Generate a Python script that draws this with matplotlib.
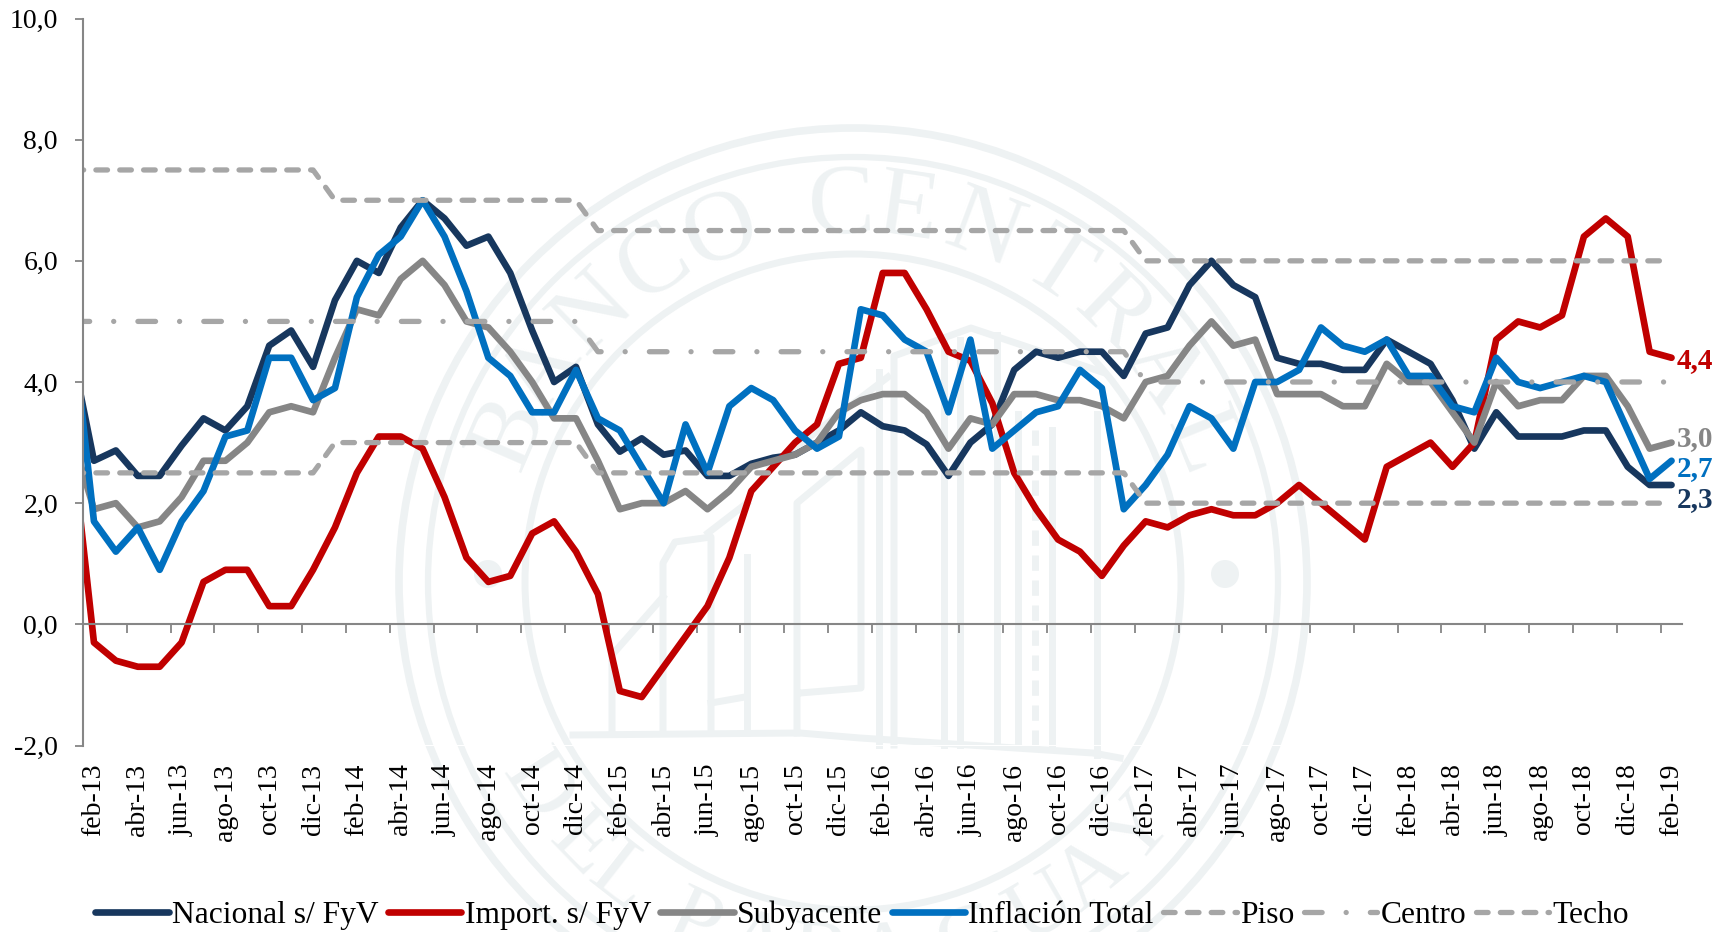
import numpy as np
import matplotlib
matplotlib.use("Agg")
import matplotlib.pyplot as plt
from matplotlib.patches import Circle

plt.rcParams['font.family'] = ['Liberation Serif', 'DejaVu Serif']

# months shown on the axis, one label every two months
tick_labels = ["feb-13","abr-13","jun-13","ago-13","oct-13","dic-13",
               "feb-14","abr-14","jun-14","ago-14","oct-14","dic-14",
               "feb-15","abr-15","jun-15","ago-15","oct-15","dic-15",
               "feb-16","abr-16","jun-16","ago-16","oct-16","dic-16",
               "feb-17","abr-17","jun-17","ago-17","oct-17","dic-17",
               "feb-18","abr-18","jun-18","ago-18","oct-18","dic-18","feb-19"]

# first value of each series is the month before feb-13, cut off by the axis
nacional = [4.5,2.7,2.87,2.45,2.45,2.95,3.4,3.2,3.6,4.6,4.85,4.25,5.35,6.0,5.8,6.55,7.0,6.7,6.25,6.4,5.8,
            4.85,4.0,4.25,3.3,2.85,3.07,2.8,2.87,2.45,2.45,2.65,2.75,2.8,3.0,3.2,3.5,3.27,3.2,2.97,2.45,
            3.0,3.3,4.2,4.5,4.4,4.5,4.5,4.1,4.8,4.9,5.6,6.0,5.6,5.4,4.4,4.3,4.3,4.2,4.2,4.7,4.5,4.3,3.7,
            2.9,3.5,3.1,3.1,3.1,3.2,3.2,2.6,2.3,2.3]
importado = [3.0,-0.3,-0.6,-0.7,-0.7,-0.3,0.7,0.9,0.9,0.3,0.3,0.9,1.6,2.5,3.1,3.1,2.9,2.1,1.1,0.7,0.8,
             1.5,1.7,1.2,0.5,-1.1,-1.2,-0.7,-0.2,0.3,1.1,2.2,2.6,3.0,3.3,4.3,4.4,5.8,5.8,5.2,4.5,4.35,
             3.65,2.5,1.9,1.4,1.2,0.8,1.3,1.7,1.6,1.8,1.9,1.8,1.8,2.0,2.3,2.0,1.7,1.4,2.6,2.8,3.0,2.6,
             3.0,4.7,5.0,4.9,5.1,6.4,6.7,6.4,4.5,4.4]
subyacente = [3.1,1.9,2.0,1.6,1.7,2.1,2.7,2.7,3.0,3.5,3.6,3.5,4.4,5.2,5.1,5.7,6.0,5.6,5.0,4.9,4.5,4.0,
              3.4,3.4,2.7,1.9,2.0,2.0,2.2,1.9,2.2,2.6,2.7,2.8,3.0,3.5,3.7,3.8,3.8,3.5,2.9,3.4,3.3,3.8,
              3.8,3.7,3.7,3.6,3.4,4.0,4.1,4.6,5.0,4.6,4.7,3.8,3.8,3.8,3.6,3.6,4.3,4.0,4.0,3.5,3.0,4.0,
              3.6,3.7,3.7,4.1,4.1,3.6,2.9,3.0]
inflacion = [5.0,1.7,1.2,1.6,0.9,1.7,2.2,3.1,3.2,4.4,4.4,3.7,3.9,5.4,6.1,6.4,7.0,6.4,5.5,4.4,4.1,3.5,
             3.5,4.2,3.4,3.2,2.6,2.0,3.3,2.5,3.6,3.9,3.7,3.2,2.9,3.1,5.2,5.1,4.7,4.5,3.5,4.7,2.9,3.2,
             3.5,3.6,4.2,3.9,1.9,2.3,2.8,3.6,3.4,2.9,4.0,4.0,4.2,4.9,4.6,4.5,4.7,4.1,4.1,3.6,3.5,4.4,
             4.0,3.9,4.0,4.1,4.0,3.2,2.4,2.7]
piso = [2.5]*12 + [3.0]*12 + [2.5]*25 + [2.0]*25
centro = [5.0]*24 + [4.5]*25 + [4.0]*25
techo = [7.5]*12 + [7.0]*12 + [6.5]*25 + [6.0]*25

y_ticks = [-2, 0, 2, 4, 6, 8, 10]
y_tick_labels = ["-2,0", "0,0", "2,0", "4,0", "6,0", "8,0", "10,0"]

# seal letters and the angle each sits at on the ring
seal_top = "BANCOCENTRAL"
seal_top_ang = [156.5,146,134,122,110.6,91.7,81.7,69.5,57,46,34,22]
seal_bottom = "DELPARAGUAY"
seal_bottom_ang = [213,224,232,245,255,265,275,288,300,309,319]

NAVY = "#17375E"
RED = "#C00000"
GREY = "#868686"
BLUE = "#0070C0"
BAND = "#A6A6A6"
SEAL = "#EEF2F3"

W, H = 1730, 932
fig = plt.figure(figsize=(W/100, H/100), dpi=100, facecolor="white")

# background seal, drawn in pixel coordinates
bg = fig.add_axes([0, 0, 1, 1], zorder=0)
bg.set_xlim(0, W)
bg.set_ylim(H, 0)
bg.axis("off")
cx, cy = 853, 582
for r, lw in [(454, 5.5), (425, 4.5), (328, 5.0)]:
    bg.add_patch(Circle((cx, cy), r, fill=False, ec=SEAL, lw=lw))
for dx in (-365, 372):
    bg.add_patch(Circle((cx+dx, cy-8), 14, fc=SEAL, ec="none"))
for ch, ang in zip(seal_top, seal_top_ang):
    a = np.deg2rad(ang)
    bg.text(cx+374*np.cos(a), cy-374*np.sin(a), ch, color=SEAL, fontsize=72,
            rotation=ang-90, rotation_mode="anchor", ha="center", va="center")
for ch, ang in zip(seal_bottom, seal_bottom_ang):
    a = np.deg2rad(ang)
    bg.text(cx+378*np.cos(a), cy-378*np.sin(a), ch, color=SEAL, fontsize=64,
            rotation=ang-270, rotation_mode="anchor", ha="center", va="center")

# building lines of the seal, in pixels
building = [
    [(663,733),(663,563),(675,542),(711,537),(711,733)],
    [(747,733),(747,557)],
    [(708,533),(747,503)],
    [(711,703),(745,697)],
    [(612,733),(612,655),(663,597)],
    [(797,733),(797,503),(861,450),(861,688),(800,693)],
    [(770,467),(888,377)],
    [(879,745),(879,372)],
    [(894,745),(894,356),(971,328),(1102,372)],
    [(944,745),(944,340)],
    [(960,745),(960,340)],
    [(997,745),(997,335)],
    [(1018,745),(1018,414)],
    [(1052,745),(1052,430)],
    [(1097,755),(1097,414)],
    [(573,735),(800,733),(860,738),(1093,753),(1120,758)],
]
for seg in building:
    bg.plot([p[0] for p in seg], [p[1] for p in seg], color=SEAL, lw=5, solid_joinstyle="round")
# patterned column between the two side lines
bg.plot([1035, 1035], [430, 745], color=SEAL, lw=5, dashes=(2.2, 1.4))

# main chart
left, right, top, bottom = 83, 1682.5, 18.5, 745.5
ax = fig.add_axes([left/W, 1-bottom/H, (right-left)/W, (bottom-top)/H], zorder=1)
ax.patch.set_alpha(0)

x = np.arange(-1, 73)
LW = 4.8
for vals, col, lab in [(nacional, NAVY, "Nacional s/ FyV"), (importado, RED, "Import. s/ FyV"),
                       (subyacente, GREY, "Subyacente"), (inflacion, BLUE, "Inflación Total")]:
    ax.plot(x, vals, color=col, lw=LW, label=lab, solid_capstyle="round", solid_joinstyle="round")

BLW = 3.8
ax.plot(x, piso, color=BAND, lw=BLW, dashes=(2.2, 2.32), dash_capstyle="round",
        dash_joinstyle="round", label="Piso")
ax.plot(x, centro, color=BAND, lw=BLW, dashes=(3.34, 4.55, 0.01, 4.58), dash_capstyle="round",
        dash_joinstyle="round", label="Centro")
ax.plot(x, techo, color=BAND, lw=BLW, dashes=(2.2, 2.32), dash_capstyle="round",
        dash_joinstyle="round", label="Techo")

ax.set_xlim(-0.5, 72.5)
ax.set_ylim(-2, 10)

for s in ("top", "right"):
    ax.spines[s].set_visible(False)
ax.spines["bottom"].set_position(("data", 0))
for s in ("left", "bottom"):
    ax.spines[s].set_color(GREY)
    ax.spines[s].set_linewidth(1.5)

ax.set_yticks(y_ticks)
ax.set_yticklabels(y_tick_labels, fontsize=20, color="black")
ax.tick_params(axis="y", length=6, width=1.3, color=GREY, pad=12)

# boundary ticks on the zero line, month labels down below the plot
ax.set_xticks(np.arange(-0.5, 72.5, 2))
ax.tick_params(axis="x", length=6.5, width=1.3, color=GREY, labelbottom=False)
sec = ax.secondary_xaxis("bottom")
sec.set_xticks(np.arange(0, 73, 2))
sec.set_xticklabels(tick_labels, rotation=90, fontsize=20, color="black")
sec.tick_params(axis="x", length=0, pad=13)
sec.spines["bottom"].set_visible(False)

# end labels
ax.annotate("4,4", (72, importado[-1]), xytext=(5, -3), textcoords="offset pixels", color=RED,
            fontsize=21, fontweight="bold", va="center", annotation_clip=False)
ax.annotate("3,0", (72, subyacente[-1]), xytext=(5, 4), textcoords="offset pixels", color=GREY,
            fontsize=21, fontweight="bold", va="center", annotation_clip=False)
ax.annotate("2,7", (72, inflacion[-1]), xytext=(5, -8), textcoords="offset pixels", color=BLUE,
            fontsize=21, fontweight="bold", va="center", annotation_clip=False)
ax.annotate("2,3", (72, nacional[-1]), xytext=(5, -15), textcoords="offset pixels", color=NAVY,
            fontsize=21, fontweight="bold", va="center", annotation_clip=False)

fig.legend(*ax.get_legend_handles_labels(), loc="center", bbox_to_anchor=(862/W, 1-915/H),
           ncol=7, frameon=False, fontsize=22.7, handlelength=2.33, handletextpad=0.1,
           columnspacing=0.3, borderpad=0, borderaxespad=0)

fig.savefig("out.png", dpi=100)
